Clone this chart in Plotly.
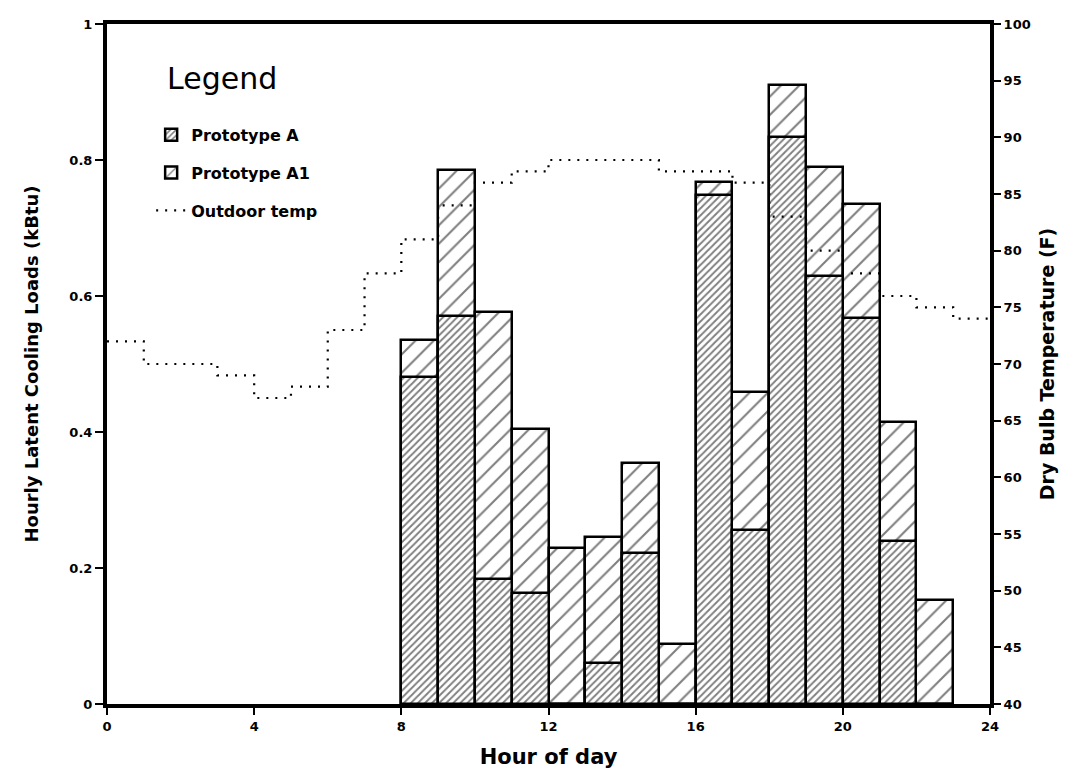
import plotly.graph_objects as go

# ---- data ----
hours_bar = [8, 9, 10, 11, 12, 13, 14, 15, 16, 17, 18, 19, 20, 21, 22]
proto_a1 = [0.535, 0.786, 0.577, 0.405, 0.229, 0.245, 0.354, 0.088,
            0.768, 0.459, 0.911, 0.789, 0.735, 0.415, 0.153]
proto_a = [0.481, 0.571, 0.184, 0.163, 0.0, 0.061, 0.222, 0.0,
           0.748, 0.256, 0.834, 0.629, 0.568, 0.239, 0.0]

hours_temp = list(range(0, 25))
outdoor_temp = [72, 70, 70, 69, 67, 68, 73, 78, 81, 84, 86, 87,
                88, 88, 88, 87, 87, 86, 83, 80, 78, 76, 75, 74, 74]

x_ticks = [0, 4, 8, 12, 16, 20, 24]
y_ticks = [0, 0.2, 0.4, 0.6, 0.8, 1]
y2_ticks = list(range(40, 101, 5))

FONT = "DejaVu Sans, Liberation Sans, Arial, sans-serif"

fig = go.Figure()

fig.add_trace(go.Bar(
    x=hours_bar, y=proto_a1, name="Prototype A1",
    width=1, offset=0, legendrank=2, legendgroup="a1",
    marker=dict(color="white",
                line=dict(color="black", width=2.5),
                pattern=dict(shape="/", size=13, solidity=0.16,
                             fgcolor="black", bgcolor="white")),
))
fig.add_trace(go.Bar(
    x=hours_bar, y=proto_a, name="Prototype A",
    width=1, offset=0, legendrank=1, legendgroup="a",
    marker=dict(color="white",
                line=dict(color="black", width=2.5),
                pattern=dict(shape="/", size=5, solidity=0.38,
                             fgcolor="black", bgcolor="white")),
))
fig.add_trace(go.Scatter(
    x=hours_temp, y=outdoor_temp, name="Outdoor temp", yaxis="y2",
    mode="lines", line=dict(color="black", width=2.2, dash="2px,7px", shape="hv"),
    legendrank=3, legendgroup="t",
))

fig.add_annotation(
    text="Legend", xref="paper", yref="paper", x=0.066, y=0.92,
    xanchor="left", yanchor="middle", showarrow=False,
    font=dict(size=30, weight="normal", family=FONT, color="black"),
)

fig.update_layout(
    width=1091, height=772,
    paper_bgcolor="white", plot_bgcolor="white",
    margin=dict(l=107, r=101, t=24, b=68),
    barmode="overlay", bargap=0,
    font=dict(family=FONT, color="black", size=13, weight="bold"),
    showlegend=True,
    legend=dict(
        x=0.05, y=0.862, xanchor="left", yanchor="top",
        bgcolor="rgba(0,0,0,0)", borderwidth=0,
        font=dict(size=16, weight="bold", family=FONT),
        traceorder="grouped", tracegroupgap=14,
    ),
    xaxis=dict(
        range=[0, 24], tickvals=x_ticks, ticktext=[str(v) for v in x_ticks],
        showline=True, linecolor="black", linewidth=4, mirror=True,
        ticks="outside", ticklen=7, tickwidth=1.5, tickcolor="black",
        showgrid=False, zeroline=False, automargin=False,
        tickfont=dict(size=13, weight="bold"),
        title=dict(text="Hour of day", font=dict(size=21, weight="bold"), standoff=18),
    ),
    yaxis=dict(
        range=[0, 1], tickvals=y_ticks,
        showline=True, linecolor="black", linewidth=4,
        ticks="outside", ticklen=8, tickwidth=1.5, tickcolor="black",
        showgrid=False, zeroline=False, automargin=False,
        tickfont=dict(size=13, weight="bold"),
        title=dict(text="Hourly Latent Cooling Loads (kBtu)",
                   font=dict(size=18, weight="bold"), standoff=27),
    ),
    yaxis2=dict(
        range=[40, 100], tickvals=y2_ticks, overlaying="y", side="right",
        showline=True, linecolor="black", linewidth=4,
        ticks="outside", ticklen=7, tickwidth=1.5, tickcolor="black",
        showgrid=False, zeroline=False, automargin=False,
        tickfont=dict(size=13, weight="bold"),
        title=dict(text="Dry Bulb Temperature (F)",
                   font=dict(size=19, weight="bold"), standoff=12),
    ),
)

fig.write_html("out.html")
